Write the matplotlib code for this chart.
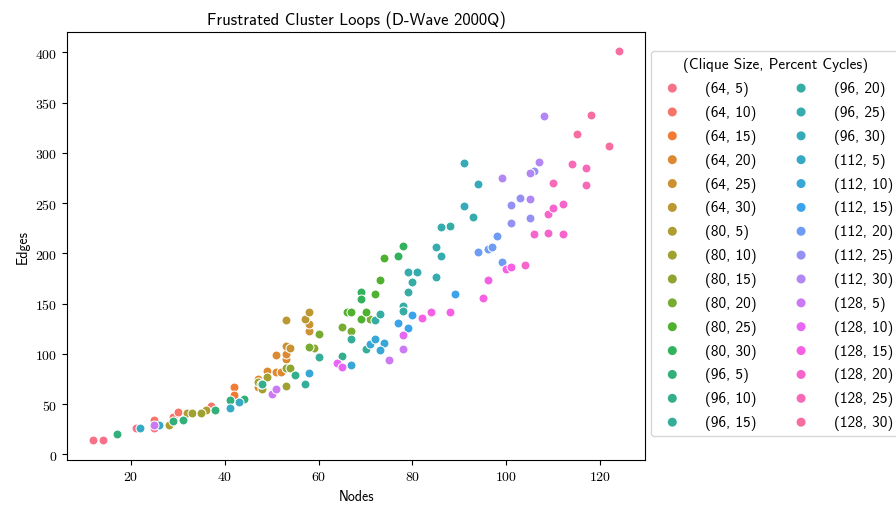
import numpy as np
import matplotlib
matplotlib.use('Agg')
from matplotlib import pyplot as plt
from matplotlib.ticker import FuncFormatter
import seaborn as sns

plt.rcParams['font.family'] = ['cmss10', 'DejaVu Sans']
plt.rcParams['mathtext.fontset'] = 'cm'

categories = ['(64, 5)', '(64, 10)', '(64, 15)', '(64, 20)', '(64, 25)', '(64, 30)',
              '(80, 5)', '(80, 10)', '(80, 15)', '(80, 20)', '(80, 25)', '(80, 30)',
              '(96, 5)', '(96, 10)', '(96, 15)', '(96, 20)', '(96, 25)', '(96, 30)',
              '(112, 5)', '(112, 10)', '(112, 15)', '(112, 20)', '(112, 25)', '(112, 30)',
              '(128, 5)', '(128, 10)', '(128, 15)', '(128, 20)', '(128, 25)', '(128, 30)']

# (nodes, edges) per category
points = [
    [(12, 14), (14, 14), (21, 26), (25, 26)],
    [(25, 34), (29, 37), (30, 42), (37, 48)],
    [(42, 67), (42, 59)],
    [(47, 67), (47, 75), (49, 83), (51, 82), (52, 82), (53, 95), (53, 100), (51, 99)],
    [(53, 108), (54, 106), (58, 123), (58, 130)],
    [(53, 134), (57, 135), (58, 142)],
    [(28, 29), (32, 41), (36, 44)],
    [(33, 41), (35, 41), (47, 72), (49, 77), (48, 65), (53, 68)],
    [(53, 86), (54, 86), (59, 106)],
    [(58, 107), (60, 120), (65, 127), (67, 123), (71, 135)],
    [(66, 142), (67, 142), (69, 135), (70, 142), (72, 160), (73, 173), (74, 195)],
    [(69, 162), (69, 155), (77, 197), (78, 207)],
    [(17, 20), (29, 33), (31, 34), (38, 44), (41, 54), (44, 55)],
    [(47.7, 70), (48, 70), (55, 79), (65, 98)],
    [(57, 70), (60, 97), (67, 115), (70, 105)],
    [(72, 134), (73, 140), (78, 148), (78, 143), (79, 162), (80, 171), (88, 227)],
    [(79, 181), (81, 181), (85, 176), (85, 206), (86, 197), (86, 226), (93, 236)],
    [(91, 290), (94, 269), (91, 247)],
    [(22, 26), (26, 29), (41, 46), (43, 52)],
    [(58, 81), (67, 89), (71, 110), (72, 115), (74, 111), (73, 104)],
    [(77, 131), (79, 126), (80, 139), (89, 160)],
    [(94, 201), (96, 204), (97, 206), (98, 217), (99, 191)],
    [(101, 230), (101, 248), (103, 255), (105, 235), (106, 282)],
    [(99, 275), (105, 254), (105, 280), (107, 291), (108, 337)],
    [(25, 29), (50, 60), (51, 65), (75, 94), (78, 105)],
    [(64, 91), (65, 87), (78, 119)],
    [(82, 136), (84, 142), (88, 142), (95, 156), (96, 173), (100, 184), (101, 186)],
    [(104, 188), (106, 219), (109, 220), (112, 219), (109, 239), (110, 245), (112, 249)],
    [(110, 270), (114, 289), (117, 285), (117, 268)],
    [(115, 319), (118, 338), (122, 307), (124, 401)],
]

colors = sns.color_palette('husl', len(categories))

fig = plt.figure(figsize=(8.96, 5.06), dpi=100)
ax = fig.add_axes([0.075, 0.0895, 0.645, 0.8455])

for cat, pts, c in zip(categories, points, colors):
    pts = np.array(pts)
    ax.scatter(pts[:, 0], pts[:, 1], s=42, color=c, edgecolors='white',
               linewidths=0.75, label=cat)

ax.set_title('Frustrated Cluster Loops (D-Wave 2000Q)', fontsize=12)
ax.set_xlabel('Nodes', fontsize=10)
ax.set_ylabel('Edges', fontsize=10)
ax.xaxis.set_major_formatter(FuncFormatter(lambda v, p: r'$%d$' % v))
ax.yaxis.set_major_formatter(FuncFormatter(lambda v, p: r'$%d$' % v))
ax.set_yticks(np.arange(0, 401, 50))

leg = ax.legend(title='(Clique Size, Percent Cycles)', ncol=2, loc='upper left',
                bbox_to_anchor=(1.01, 0.955), borderaxespad=0, fontsize=11,
                title_fontsize=11, handletextpad=1.15, columnspacing=1.9,
                labelspacing=0.58)
for h in leg.legend_handles:
    h.set_edgecolor('none')

fig.savefig('out.png', dpi=100)
